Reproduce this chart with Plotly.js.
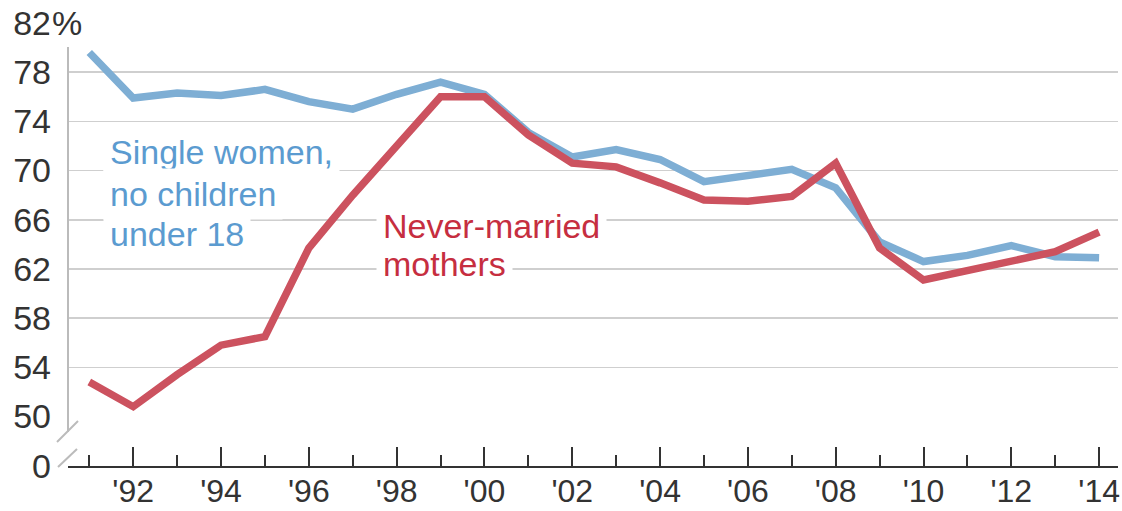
<!DOCTYPE html>
<html>
<head>
<meta charset="utf-8">
<script src="https://cdn.plot.ly/plotly-3.0.1.min.js"></script>
<style>
  html, body { margin: 0; padding: 0; background: #fff; }
  #chart { width: 1122px; height: 511px; }
</style>
</head>
<body>
<div id="chart"></div>
<script>
// data
var years = [1991, 1992, 1993, 1994, 1995, 1996, 1997, 1998, 1999, 2000, 2001, 2002,
             2003, 2004, 2005, 2006, 2007, 2008, 2009, 2010, 2011, 2012, 2013, 2014];
var singleWomen = [79.6, 75.9, 76.3, 76.1, 76.6, 75.6, 75.0, 76.2, 77.2, 76.2, 73.1, 71.1,
                   71.7, 70.9, 69.1, 69.6, 70.1, 68.6, 64.2, 62.6, 63.1, 63.9, 63.0, 62.9];
var neverMarried = [52.8, 50.8, 53.4, 55.8, 56.5, 63.7, 68.0, 72.1, 76.0, 76.0, 72.9, 70.6,
                    70.3, 69.0, 67.6, 67.5, 67.9, 70.6, 63.7, 61.1, 61.9, 62.6, 63.4, 65.0];
var xTickVals = [1992, 1994, 1996, 1998, 2000, 2002, 2004, 2006, 2008, 2010, 2012, 2014];
var xTickText = ["'92", "'94", "'96", "'98", "'00", "'02", "'04", "'06", "'08", "'10", "'12", "'14"];
var xMinorVals = [1991, 1993, 1995, 1997, 1999, 2001, 2003, 2005, 2007, 2009, 2011, 2013];
var yTickVals = [50, 54, 58, 62, 66, 70, 74, 78, 82];
var yTickText = ['50', '54', '58', '62', '66', '70', '74', '78', '82'];

var FONT = 'Liberation Sans, Arial, sans-serif';
var BLUE = '#7eaed4', RED = '#cc525f';
var BLUE_TXT = '#5b9bd0', RED_TXT = '#c62e40';

// pixel -> paper helpers (plot area 68..1118 x 23..466)
var L = 68, R = 1118, T = 23, B = 466;
function px(x) { return (x - L) / (R - L); }
function py(y) { return (B - y) / (B - T); }

var traces = [
    // empty trace so the lower "0" axis and its subplot exist
    {x: [], y: [], xaxis: 'x', yaxis: 'y2', mode: 'lines', hoverinfo: 'skip'},
    {x: years, y: singleWomen, mode: 'lines', line: {color: BLUE, width: 7.5}, hoverinfo: 'skip'},
    {x: years, y: neverMarried, mode: 'lines', line: {color: RED, width: 7.5}, hoverinfo: 'skip'}
];

function label(text, x, y, color) {
    return {xref: 'paper', yref: 'paper', x: px(x), y: py(y), xanchor: 'left', yanchor: 'middle',
            text: text, showarrow: false, bgcolor: '#fff', borderpad: 6,
            font: {family: FONT, size: 34, color: color}};
}

var layout = {
    width: 1122, height: 511,
    margin: {l: L, r: 1122 - R, t: T, b: 511 - B, pad: 0},
    paper_bgcolor: '#fff', plot_bgcolor: '#fff',
    showlegend: false,
    font: {family: FONT, color: '#333'},
    xaxis: {
        range: [1990.515, 2014.43], anchor: 'y2',
        showline: true, linecolor: '#333', linewidth: 2,
        showgrid: false, zeroline: false,
        tickmode: 'array', tickvals: xTickVals, ticktext: xTickText,
        ticks: 'inside', ticklen: 19, tickwidth: 2, tickcolor: '#333',
        ticklabelstandoff: -4,
        tickfont: {family: FONT, size: 32, color: '#333'},
        minor: {tickvals: xMinorVals, ticks: 'inside', ticklen: 11, tickwidth: 2,
                tickcolor: '#333', showgrid: false}
    },
    yaxis: {
        domain: [py(416.5), 1], range: [50, 82], anchor: 'x',
        tickmode: 'array', tickvals: yTickVals, ticktext: yTickText,
        showgrid: true, gridcolor: '#cfcfcf', gridwidth: 1.5,
        showline: false, zeroline: false, ticks: '',
        ticklabelstandoff: 16,
        tickfont: {family: FONT, size: 34, color: '#333'}
    },
    yaxis2: {
        domain: [0, 0.03], range: [0, 1], anchor: 'x',
        tickmode: 'array', tickvals: [0], ticktext: ['0'],
        showgrid: false, showline: false, zeroline: false, ticks: '',
        ticklabelstandoff: 16,
        tickfont: {family: FONT, size: 34, color: '#333'}
    },
    shapes: [
        // broken y axis
        {type: 'line', xref: 'paper', yref: 'paper', x0: 0, x1: 0, y0: py(432), y1: py(47),
         line: {color: '#bbb', width: 2}},
        {type: 'line', xref: 'paper', yref: 'paper', x0: px(57), x1: px(78), y0: py(442), y1: py(421),
         line: {color: '#bbb', width: 2}},
        {type: 'line', xref: 'paper', yref: 'paper', x0: px(58), x1: px(77), y0: py(467), y1: py(449),
         line: {color: '#bbb', width: 2}}
    ],
    annotations: [
        {xref: 'paper', yref: 'y', x: px(49), y: 82, xanchor: 'left', yanchor: 'middle',
         text: '%', showarrow: false, bgcolor: '#fff', borderpad: 2,
         font: {family: FONT, size: 34, color: '#333'}},
        label('Single women,', 103, 152, BLUE_TXT),
        label('no children', 103, 194, BLUE_TXT),
        label('under 18', 103, 234, BLUE_TXT),
        label('Never-married', 376, 226, RED_TXT),
        label('mothers', 376, 264, RED_TXT)
    ]
};

Plotly.newPlot('chart', traces, layout, {displayModeBar: false, staticPlot: true});
</script>
</body>
</html>
